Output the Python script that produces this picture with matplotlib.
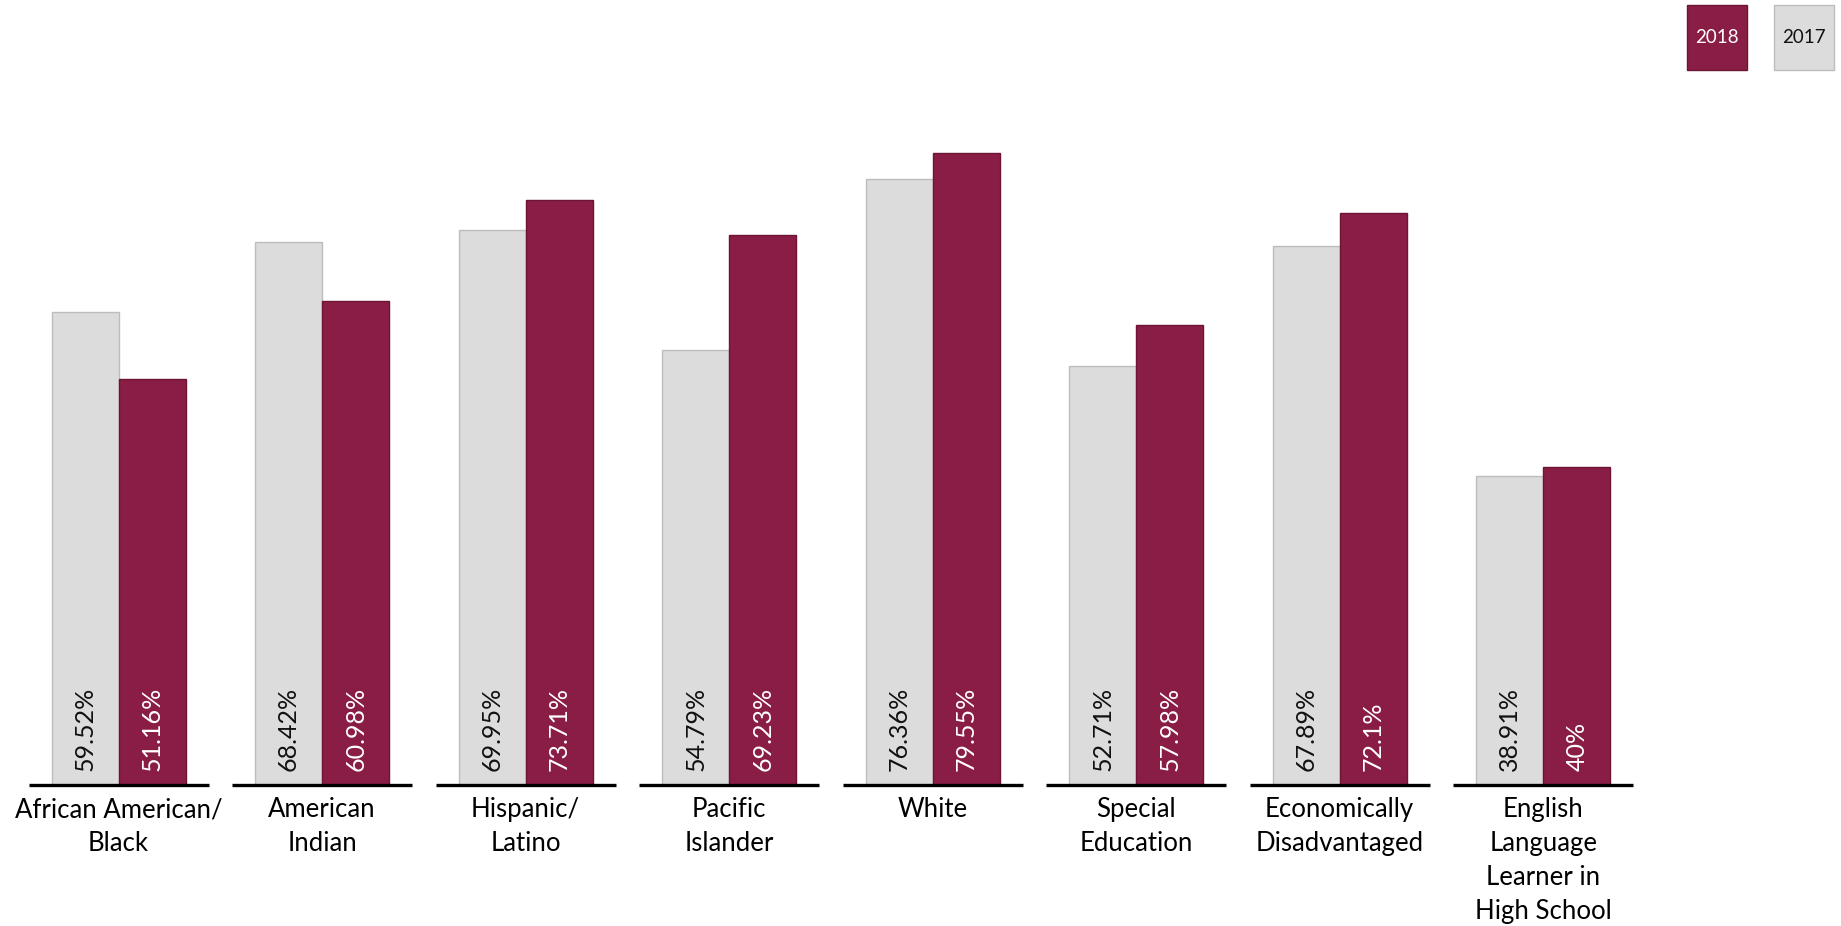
import numpy as np
import matplotlib
matplotlib.use("Agg")
import matplotlib.pyplot as plt
from matplotlib.patches import Rectangle

plt.rcParams["font.family"] = ["Lato", "DejaVu Sans"]

groups = [
    "African American/\nBlack",
    "American\nIndian",
    "Hispanic/\nLatino",
    "Pacific\nIslander",
    "White",
    "Special\nEducation",
    "Economically\nDisadvantaged",
    "English\nLanguage\nLearner in\nHigh School",
]
rate_2017 = [59.52, 68.42, 69.95, 54.79, 76.36, 52.71, 67.89, 38.91]
rate_2018 = [51.16, 60.98, 73.71, 69.23, 79.55, 57.98, 72.1, 40]
years = ["2018", "2017"]

MAROON = "#8a1d45"
MAROON_EDGE = "#6d1435"
GREY = "#dcdcdc"
GREY_EDGE = "#bdbdbd"

fig = plt.figure(figsize=(18.41, 9.26), dpi=100)
ax = fig.add_axes([0.0092, 0.1528, 0.8843, 0.8472])

x = np.arange(len(groups))
w = 0.33

bars17 = ax.bar(x - w / 2, rate_2017, w, color=GREY, edgecolor=GREY_EDGE, linewidth=1)
bars18 = ax.bar(x + w / 2, rate_2018, w, color=MAROON, edgecolor=MAROON_EDGE, linewidth=1)

def label_bars(bars, values, color):
    for b, v in zip(bars, values):
        ax.annotate(f"{v:g}%", (b.get_x() + b.get_width() / 2, 0),
                    xytext=(0, 10), textcoords="offset points",
                    rotation=90, ha="center", va="bottom",
                    fontsize=18, color=color)

label_bars(bars17, rate_2017, "#111111")
label_bars(bars18, rate_2018, "white")

# separate baseline under each group
ax.hlines(np.zeros(len(x)), x - 0.4425, x + 0.4425, color="black", lw=2.4, clip_on=False, zorder=3)

ax.set_xlim(-0.5, 7.5)
ax.set_ylim(0, 98.9)
ax.set_xticks(x)
ax.set_xticklabels(groups, fontsize=18.5, linespacing=1.45, va="top")
ax.tick_params(axis="x", length=0, pad=9)
ax.set_yticks([])
for s in ax.spines.values():
    s.set_visible(False)

# legend boxes in the top right corner
for (x0, label), fc, ec, tc in zip([(1687, years[0]), (1774, years[1])],
                                   [MAROON, GREY], [MAROON_EDGE, GREY_EDGE],
                                   ["white", "#111111"]):
    fig.add_artist(Rectangle((x0 / 1841, 1 - 70 / 926), 60 / 1841, 65 / 926,
                             transform=fig.transFigure, facecolor=fc, edgecolor=ec, lw=1))
    fig.text((x0 + 30) / 1841, 1 - 37.5 / 926, label, ha="center", va="center",
             fontsize=13.5, color=tc)

fig.savefig("out.png", dpi=100)
